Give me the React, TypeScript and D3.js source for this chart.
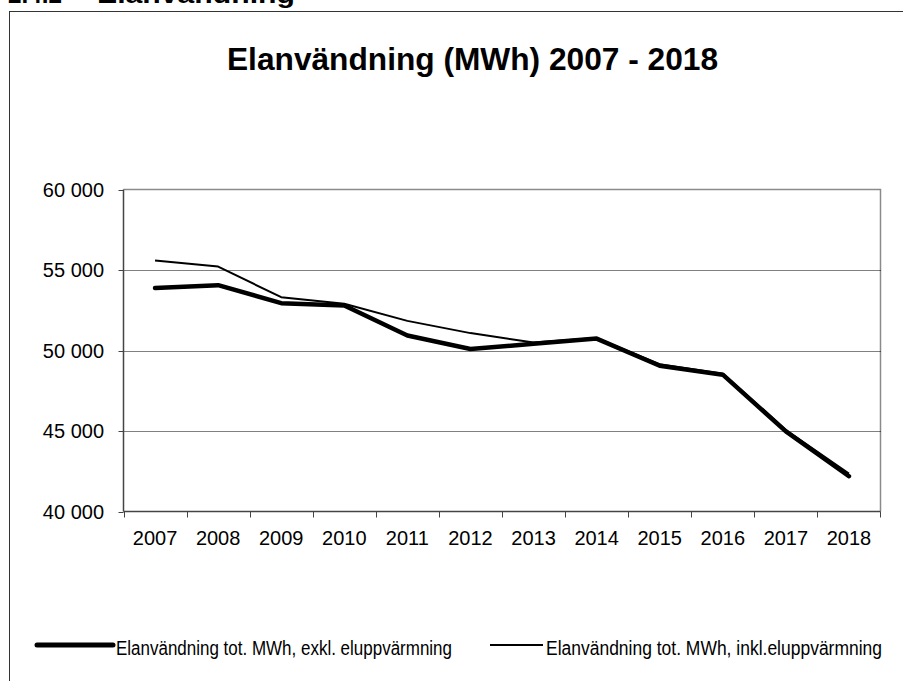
import React from "react";
import * as d3 from "d3";

const years = ["2007", "2008", "2009", "2010", "2011", "2012", "2013", "2014", "2015", "2016", "2017", "2018"];
const exklValues = [53880, 54060, 52940, 52800, 50930, 50090, 50420, 50740, 49050, 48500, 44980, 42190];
const inklValues = [55590, 55210, 53310, 52900, 51840, 51080, 50500, 50770, 49150, 48560, 45060, 42350];
const yTicks = [40000, 45000, 50000, 55000, 60000];
const seriesNames = [
  "Elanvändning tot. MWh, exkl. eluppvärmning",
  "Elanvändning tot. MWh, inkl.eluppvärmning",
];
const chartTitle = "Elanvändning (MWh) 2007 - 2018";

export default function App() {
  const W = 903, H = 681;
  const left = 123.5, right = 880.5, top = 189.5, bottom = 511.5;
  const x = d3.scaleBand<string>().domain(years).range([left, right]);
  const y = d3.scaleLinear().domain([40000, 60000]).range([bottom, top]);
  const line = d3
    .line<number>()
    .x((_, i) => (x(years[i]) as number) + x.bandwidth() / 2)
    .y((d) => y(d));
  const fmt = (v: number) => d3.format(",")(v).replace(/,/g, " ");
  const font = "Arial, 'Liberation Sans', Helvetica, sans-serif";
  const crisp = (v: number) => Math.round(v) + 0.5;

  return (
    <svg
      width={W}
      height={H}
      style={{ position: "absolute", left: 0, top: 0, background: "#fff" }}
      fontFamily={font}
    >
      <rect x={0} y={0} width={W} height={H} fill="#fff" />
      {/* cut-off heading */}
      <text x={8} y={3} fontSize={26} fontWeight="bold" textLength={54} lengthAdjust="spacingAndGlyphs">2.4.2</text>
      <text x={97} y={3} fontSize={26} fontWeight="bold" textLength={198} lengthAdjust="spacingAndGlyphs">Elanvändning</text>
      {/* outer frame */}
      <rect x={9.5} y={11.5} width={1000} height={1000} fill="none" stroke="#333" strokeWidth={1} />
      {/* title */}
      <text x={227} y={70} fontSize={31.5} fontWeight="bold" textLength={491} lengthAdjust="spacingAndGlyphs">{chartTitle}</text>
      {/* plot border top/right */}
      <path d={`M${left},${top}H${right}V${bottom}`} fill="none" stroke="#8a8a8a" strokeWidth={1.5} />
      {/* gridlines */}
      {yTicks.slice(1, -1).map((t) => (
        <line key={t} x1={left} x2={right} y1={crisp(y(t))} y2={crisp(y(t))} stroke="#000" strokeWidth={1} strokeDasharray="1,1" />
      ))}
      {/* y axis */}
      <line x1={left} x2={left} y1={top} y2={bottom} stroke="#444" strokeWidth={1.5} />
      {yTicks.map((t) => (
        <g key={t}>
          <line x1={left - 5} x2={left} y1={crisp(y(t))} y2={crisp(y(t))} stroke="#444" strokeWidth={1} />
          <text x={104} y={y(t)} dy="0.35em" textAnchor="end" fontSize={20}>{fmt(t)}</text>
        </g>
      ))}
      {/* x axis */}
      <line x1={left} x2={right} y1={bottom} y2={bottom} stroke="#444" strokeWidth={1.5} />
      {years.map((yr) => (
        <line key={"t" + yr} x1={crisp(x(yr) as number)} x2={crisp(x(yr) as number)} y1={bottom} y2={bottom + 6} stroke="#444" strokeWidth={1} />
      ))}
      <line x1={right} x2={right} y1={bottom} y2={bottom + 6} stroke="#444" strokeWidth={1} />
      {years.map((yr) => (
        <text key={yr} x={(x(yr) as number) + x.bandwidth() / 2} y={545} textAnchor="middle" fontSize={20}>{yr}</text>
      ))}
      {/* series */}
      <path d={line(exklValues) || ""} fill="none" stroke="#000" strokeWidth={4.5} strokeLinejoin="round" strokeLinecap="round" />
      <path d={line(inklValues) || ""} fill="none" stroke="#000" strokeWidth={2} strokeLinejoin="round" />
      {/* legend */}
      <line x1={37} x2={113} y1={645} y2={645} stroke="#000" strokeWidth={5} strokeLinecap="round" />
      <text x={116} y={655} fontSize={20} textLength={336} lengthAdjust="spacingAndGlyphs">{seriesNames[0]}</text>
      <line x1={490} x2={543} y1={645} y2={645} stroke="#000" strokeWidth={2} />
      <text x={546} y={655} fontSize={20} textLength={336} lengthAdjust="spacingAndGlyphs">{seriesNames[1]}</text>
    </svg>
  );
}
